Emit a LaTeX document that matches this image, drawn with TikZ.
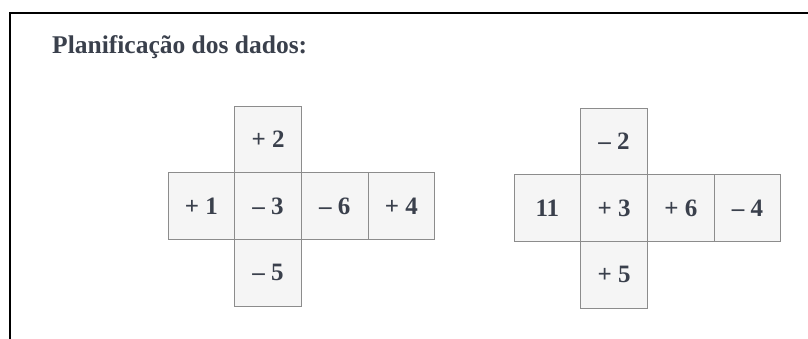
\documentclass[tikz,border=0pt]{standalone}
\usepackage{fontspec}
\setmainfont{Liberation Serif}
\definecolor{inkc}{HTML}{3A404C}
\definecolor{cellfill}{HTML}{F5F5F5}
\definecolor{celledge}{HTML}{8C8C8C}
\begin{document}
\begin{tikzpicture}[x=1pt,y=-1pt,
  cell/.style={draw=celledge, fill=cellfill, line width=0.9pt, rectangle,
    minimum width=66.7pt, minimum height=66.7pt, inner sep=0pt,
    font=\fontsize{25}{27}\selectfont\bfseries, text=inkc},
  frame/.style={line width=2.2pt, black}]
\useasboundingbox (0,0) rectangle (808,338);
\fill[white] (0,0) rectangle (808,338);
\coordinate (fb) at (10,340);
\coordinate (fc) at (10,13);
\coordinate (fr) at (810,13);
\draw[frame] (fb) -- (fc) -- (fr);
\node[anchor=base west, inner sep=0pt, text=inkc, font=\fontsize{25.5}{28}\selectfont\bfseries] (title) at (52,53) {Planificação dos dados:};
% left net
\node[cell] (a1) at (201.35,206.05) {+ 1};
\node[cell] (a3) at (268.05,206.05) {– 3};
\node[cell] (a6) at (334.75,206.05) {– 6};
\node[cell] (a4) at (401.45,206.05) {+ 4};
\node[cell] (a2) at (268.05,139.35) {+ 2};
\node[cell] (a5) at (268.05,272.75) {– 5};
% right net
\node[cell] (b11) at (547.35,208.05) {11};
\node[cell] (b3) at (614.05,208.05) {+ 3};
\node[cell] (b6) at (680.75,208.05) {+ 6};
\node[cell] (b4) at (747.45,208.05) {– 4};
\node[cell] (b2) at (614.05,141.35) {– 2};
\node[cell] (b5) at (614.05,274.75) {+ 5};
\end{tikzpicture}
\end{document}
